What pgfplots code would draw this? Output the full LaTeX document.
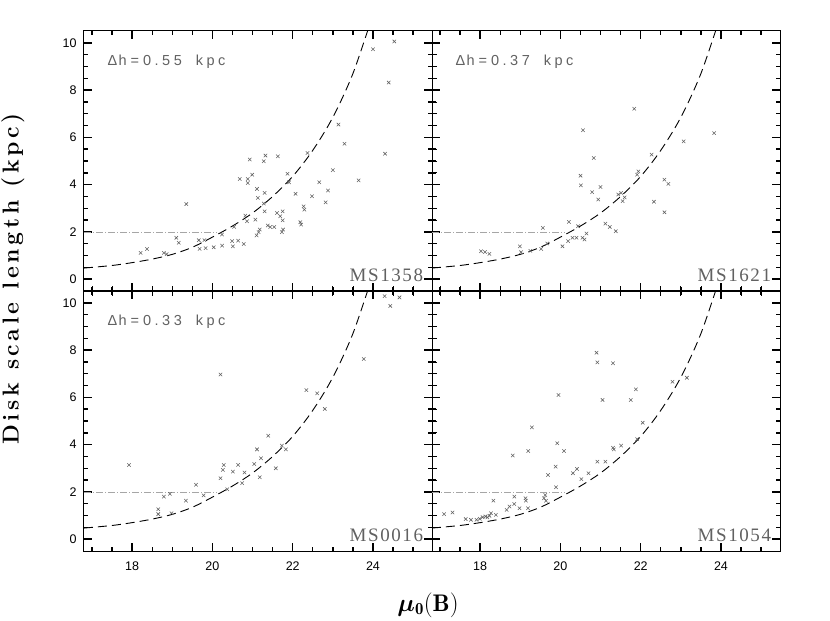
\documentclass[border=0pt]{standalone}
\usepackage{fontspec}
\usepackage{bm}
\newfontfamily\helv{Liberation Sans}
\newfontfamily\tms{Liberation Serif}
\usepackage{pgfplots}
\usepackage{pgfplotstable}
\pgfplotsset{compat=1.18}
\usepgfplotslibrary{groupplots}

\pgfplotstableread{
x y
16.8 0.47
17.5 0.58
18.0 0.70
18.5 0.85
19.0 1.05
19.5 1.35
20.0 1.78
20.5 2.25
21.0 2.80
21.5 3.50
22.0 4.35
22.5 5.45
23.0 6.85
23.5 8.70
24.0 11.2
}\curvetab

\pgfplotstableread{
x y
18.21 1.11
18.37 1.28
18.79 1.11
18.86 1.06
19.10 1.75
19.16 1.54
19.35 3.18
19.66 1.65
19.68 1.28
19.80 1.65
19.83 1.31
20.03 1.35
20.24 1.42
20.24 1.89
20.49 1.61
20.51 1.39
20.54 2.21
20.64 1.63
20.68 4.24
20.78 1.49
20.82 2.69
20.86 2.45
20.88 4.24
20.93 5.06
20.99 4.42
20.88 4.07
21.07 2.52
21.11 3.82
21.10 1.85
21.13 3.44
21.15 1.99
21.18 2.10
21.28 4.99
21.32 5.23
21.30 3.65
21.28 3.20
21.30 2.87
21.38 2.27
21.44 2.21
21.54 2.21
21.63 5.20
21.61 2.80
21.69 2.66
21.75 2.87
21.75 2.49
21.76 2.10
21.73 1.99
21.87 4.46
21.91 4.10
22.07 3.61
22.19 2.41
22.21 2.31
22.27 3.08
22.29 2.94
22.37 5.34
22.48 3.51
22.66 4.10
22.82 3.25
22.88 3.75
23.00 4.61
23.14 6.54
23.29 5.73
23.64 4.18
24.00 9.73
24.30 5.31
24.39 8.32
24.53 10.06
}\msAtab

\pgfplotstableread{
x y
18.02 1.18
18.12 1.15
18.23 1.07
18.99 1.39
19.02 1.14
19.25 1.20
19.56 2.17
19.52 1.28
19.67 1.51
20.05 1.39
20.19 1.61
20.21 2.42
20.30 1.75
20.40 1.75
20.44 2.24
20.50 4.38
20.51 3.97
20.56 6.30
20.55 1.75
20.60 1.68
20.65 1.93
20.79 3.68
20.83 5.13
20.94 3.37
21.00 3.90
21.12 2.35
21.23 2.21
21.38 2.03
21.44 3.58
21.51 3.65
21.55 3.30
21.60 3.46
21.84 7.21
21.91 4.42
21.94 4.56
22.27 5.27
22.33 3.28
22.59 2.83
22.59 4.21
22.69 4.03
23.07 5.83
23.83 6.18
}\msBtab

\pgfplotstableread{
x y
17.92 3.14
18.65 1.27
18.65 1.06
18.79 1.80
18.94 1.92
18.98 1.10
19.34 1.63
19.59 2.30
19.78 1.85
20.20 6.97
20.20 2.58
20.26 2.93
20.28 3.14
20.37 2.11
20.51 2.86
20.64 3.14
20.74 2.37
20.80 2.82
21.04 3.18
21.11 3.80
21.18 2.62
21.21 3.42
21.39 4.38
21.58 3.00
21.73 3.96
21.83 3.80
22.34 6.31
22.61 6.17
22.80 5.51
23.77 7.62
24.29 10.28
24.43 9.87
24.66 10.23
}\msCtab

\pgfplotstableread{
x y
17.10 1.06
17.31 1.13
17.64 0.85
17.77 0.82
17.91 0.82
17.99 0.86
18.06 0.93
18.13 0.96
18.18 0.92
18.23 0.99
18.27 1.10
18.33 1.63
18.39 1.03
18.66 1.24
18.73 1.38
18.81 3.54
18.85 1.80
18.85 1.49
18.98 1.31
19.13 1.73
19.14 1.63
19.19 1.31
19.20 3.73
19.29 4.73
19.59 1.73
19.62 1.87
19.64 1.63
19.69 2.72
19.88 3.07
19.89 2.20
19.92 4.06
19.95 6.10
20.09 3.73
20.31 2.79
20.41 2.97
20.52 2.54
20.70 2.79
20.90 7.89
20.92 7.48
20.92 3.28
21.05 5.89
21.12 3.28
21.31 7.44
21.31 3.87
21.33 3.80
21.51 3.96
21.75 5.89
21.88 6.34
21.91 4.23
22.05 4.93
22.79 6.66
23.15 6.83
}\msDtab

\pgfplotstableread{
x y
16.8 2
20.1 2
}\hltab

\pgfplotstableread{
x y
18 -0.5
18 -0.162
nan nan
20 -0.5
20 -0.162
nan nan
22 -0.5
22 -0.162
nan nan
24 -0.5
24 -0.162
nan nan
18 10.5
18 10.162
nan nan
20 10.5
20 10.162
nan nan
22 10.5
22 10.162
nan nan
24 10.5
24 10.162
nan nan
17 -0.5
17 -0.31
nan nan
17.5 -0.5
17.5 -0.31
nan nan
18.5 -0.5
18.5 -0.31
nan nan
19 -0.5
19 -0.31
nan nan
19.5 -0.5
19.5 -0.31
nan nan
20.5 -0.5
20.5 -0.31
nan nan
21 -0.5
21 -0.31
nan nan
21.5 -0.5
21.5 -0.31
nan nan
22.5 -0.5
22.5 -0.31
nan nan
23 -0.5
23 -0.31
nan nan
23.5 -0.5
23.5 -0.31
nan nan
24.5 -0.5
24.5 -0.31
nan nan
25 -0.5
25 -0.31
nan nan
17 10.5
17 10.31
nan nan
17.5 10.5
17.5 10.31
nan nan
18.5 10.5
18.5 10.31
nan nan
19 10.5
19 10.31
nan nan
19.5 10.5
19.5 10.31
nan nan
20.5 10.5
20.5 10.31
nan nan
21 10.5
21 10.31
nan nan
21.5 10.5
21.5 10.31
nan nan
22.5 10.5
22.5 10.31
nan nan
23 10.5
23 10.31
nan nan
23.5 10.5
23.5 10.31
nan nan
24.5 10.5
24.5 10.31
nan nan
25 10.5
25 10.31
nan nan
16.8 0
17.0 0
nan nan
16.8 2
17.0 2
nan nan
16.8 4
17.0 4
nan nan
16.8 6
17.0 6
nan nan
16.8 8
17.0 8
nan nan
16.8 10
17.0 10
nan nan
25.47 0
25.27 0
nan nan
25.47 2
25.27 2
nan nan
25.47 4
25.27 4
nan nan
25.47 6
25.27 6
nan nan
25.47 8
25.27 8
nan nan
25.47 10
25.27 10
nan nan
16.8 0.5
16.912 0.5
nan nan
16.8 1
16.912 1
nan nan
16.8 1.5
16.912 1.5
nan nan
16.8 2.5
16.912 2.5
nan nan
16.8 3
16.912 3
nan nan
16.8 3.5
16.912 3.5
nan nan
16.8 4.5
16.912 4.5
nan nan
16.8 5
16.912 5
nan nan
16.8 5.5
16.912 5.5
nan nan
16.8 6.5
16.912 6.5
nan nan
16.8 7
16.912 7
nan nan
16.8 7.5
16.912 7.5
nan nan
16.8 8.5
16.912 8.5
nan nan
16.8 9
16.912 9
nan nan
16.8 9.5
16.912 9.5
nan nan
25.47 0.5
25.358 0.5
nan nan
25.47 1
25.358 1
nan nan
25.47 1.5
25.358 1.5
nan nan
25.47 2.5
25.358 2.5
nan nan
25.47 3
25.358 3
nan nan
25.47 3.5
25.358 3.5
nan nan
25.47 4.5
25.358 4.5
nan nan
25.47 5
25.358 5
nan nan
25.47 5.5
25.358 5.5
nan nan
25.47 6.5
25.358 6.5
nan nan
25.47 7
25.358 7
nan nan
25.47 7.5
25.358 7.5
nan nan
25.47 8.5
25.358 8.5
nan nan
25.47 9
25.358 9
nan nan
25.47 9.5
25.358 9.5
}\ticktab

\pgfplotsset{
  panel/.style={
    width=348pt, height=260pt, scale only axis,
    xmin=16.8, xmax=25.47, ymin=-0.5, ymax=10.5,
    xtick={18,20,22,24}, minor xtick={17,17.5,18.5,19,19.5,20.5,21,21.5,22.5,23,23.5,24.5,25},
    ytick={0,2,4,6,8,10}, minor ytick={0.5,1,1.5,2.5,3,3.5,4.5,5,5.5,6.5,7,7.5,8.5,9,9.5},
    tick align=inside, major tick length=8pt, minor tick length=4.5pt,
    tick style={black, line width=0.8pt},
    axis line style={line width=1pt},
    /pgf/number format/assume math mode=true,
    ticklabel style={font=\helv\fontsize{12.5}{14}\selectfont},
    xticklabel style={yshift=-7pt},
    yticklabel style={xshift=-4pt},
  },
  pts/.style={only marks, mark=x, mark size=2.4pt, color=black!62, mark options={line width=0.55pt}},
  crv/.style={black, line width=0.9pt, dash pattern=on 9pt off 5pt, smooth, tension=0.5},
  hl/.style={black!35, line width=0.6pt, dash pattern=on 7pt off 2pt on 1pt off 2pt},
  tk/.style={black, line width=1.4pt, mark=none, unbounded coords=jump},
}

\newcommand{\lk}{\kern3.6pt}
\newcommand{\dk}{\kern3.5pt}
\newcommand{\mk}{\kern1.6pt}
\newcommand{\dhlab}[3]{\node[anchor=west, text=black!62, font=\helv\fontsize{14.5}{16}\selectfont] at (rel axis cs:0.058,0.882) {Δ\kern1.2pt h\kern4pt=\kern4pt #1\dk .\dk #2\dk #3\hspace{14pt}k\dk p\dk c};}
\newcommand{\mslab}[1]{\node[anchor=base east, text=black!62, inner sep=0pt, font=\tms\fontsize{19}{21}\selectfont] at (rel axis cs:0.975,0.037) {#1};}

\begin{document}
\begin{tikzpicture}
\begin{groupplot}[group style={group size=2 by 2, horizontal sep=0pt, vertical sep=0pt,
    xticklabels at=edge bottom, yticklabels at=edge left, group name=G}, panel]
\nextgroupplot
\coordinate (tl) at (rel axis cs:0,1);
\addplot[tk] table {\ticktab};
\addplot[hl] table {\hltab};
\addplot[crv] table {\curvetab};
\addplot[pts] table {\msAtab};
\dhlab{0}{5}{5}
\mslab{M\mk S\mk 1\mk 3\mk 5\mk 8}
\nextgroupplot
\addplot[tk] table {\ticktab};
\addplot[hl] table {\hltab};
\addplot[crv] table {\curvetab};
\addplot[pts] table {\msBtab};
\dhlab{0}{3}{7}
\mslab{M\mk S\mk 1\mk 6\mk 2\mk 1}
\nextgroupplot
\addplot[tk] table {\ticktab};
\addplot[hl] table {\hltab};
\addplot[crv] table {\curvetab};
\addplot[pts] table {\msCtab};
\dhlab{0}{3}{3}
\mslab{M\mk S\mk 0\mk 0\mk 1\mk 6}
\nextgroupplot
\coordinate (br) at (rel axis cs:1,0);
\addplot[tk] table {\ticktab};
\addplot[hl] table {\hltab};
\addplot[crv] table {\curvetab};
\addplot[pts] table {\msDtab};
\mslab{M\mk S\mk 1\mk 0\mk 5\mk 4}
\end{groupplot}
\node[rotate=90, font=\bfseries\fontsize{23}{26}\selectfont] at ([shift={(-71pt,-248pt)}]tl) {D\lk i\lk s\lk k\hspace{13pt}s\lk c\lk a\lk l\lk e\hspace{13pt}l\lk e\lk n\lk g\lk t\lk h\hspace{13pt}(\lk k\lk p\lk c\lk )};
\node[font=\fontsize{24}{28}\selectfont] at ([shift={(344pt,-574pt)}]tl) {$\bm{\mu}_{\mathbf{0}}(\mathbf{B})$};
\pgfresetboundingbox
\path[use as bounding box] ([shift={(-84pt,31pt)}]tl) rectangle ([shift={(50pt,-70pt)}]br);
\end{tikzpicture}
\end{document}
